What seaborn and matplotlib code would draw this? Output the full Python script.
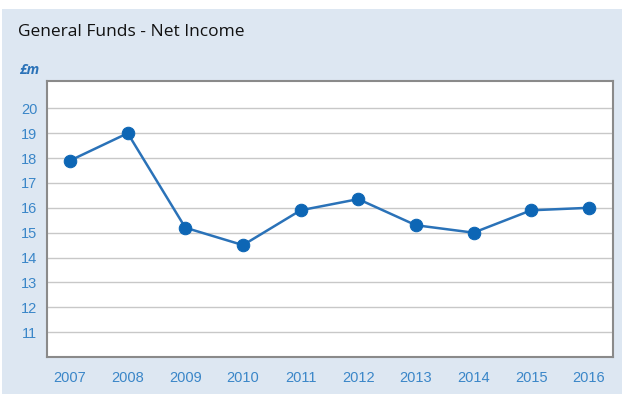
import matplotlib
matplotlib.use("Agg")
import matplotlib.pyplot as plt
import seaborn as sns
import pandas as pd
from matplotlib.patches import Rectangle

years = ["2007", "2008", "2009", "2010", "2011", "2012", "2013", "2014", "2015", "2016"]
net_income = [17.9, 19.0, 15.2, 14.5, 15.9, 16.35, 15.3, 15.0, 15.9, 16.0]
y_ticks = [11, 12, 13, 14, 15, 16, 17, 18, 19, 20]

sns.set_theme(style="white")
plt.rcParams['font.family'] = ['Liberation Sans', 'DejaVu Sans']

W, H = 624, 394
fig = plt.figure(figsize=(W / 100, H / 100), dpi=100)
fig.patch.set_facecolor("white")
bg = "#dde7f2"
fig.patches.append(Rectangle((2 / W, 0), (W - 4) / W, (H - 9) / H, transform=fig.transFigure,
                             facecolor=bg, edgecolor="none", zorder=-10))

left, right, top, bottom = 47, 613, 81, 357
ax = fig.add_axes([left / W, 1 - bottom / H, (right - left) / W, (bottom - top) / H])
ax.set_facecolor("white")

df = pd.DataFrame({"year": years, "value": net_income})
x = list(range(len(years)))
sns.lineplot(x=x, y=df["value"], ax=ax, color="#2a72b8", linewidth=1.8,
             marker="o", markersize=9, markerfacecolor="#0d66b5", markeredgecolor="#0d66b5",
             zorder=3)

ax.set_xlim(-0.4, len(years) - 1 + 0.42)
ax.set_ylim(10, 21.1)
ax.set_xticks(x)
ax.set_xticklabels(years)
ax.set_yticks(y_ticks)
ax.yaxis.grid(True, color="#c8c8c8", linewidth=1.0)
ax.xaxis.grid(False)
ax.set_axisbelow(True)
for s in ax.spines.values():
    s.set_color("#8a8a8a")
    s.set_linewidth(1.5)
tick_color = "#3a86c8"
ax.tick_params(axis="both", length=0, colors=tick_color, labelsize=10.5)
ax.tick_params(axis="x", pad=10)
ax.tick_params(axis="y", pad=7)
ax.set_xlabel("")
ax.set_ylabel("")

fig.text(18 / W, 1 - 32 / H, "General Funds - Net Income", fontsize=12.5, color="#111111",
         va="center", ha="left", family=["Open Sans", "DejaVu Sans"], fontweight="medium")
fig.text(19 / W, 1 - 70 / H, "£m", fontsize=10, color="#2a72b8", fontweight="bold",
         fontstyle="italic", va="center", ha="left", family=["Open Sans", "DejaVu Sans"])

fig.savefig("out.png", dpi=100, facecolor=fig.get_facecolor())
